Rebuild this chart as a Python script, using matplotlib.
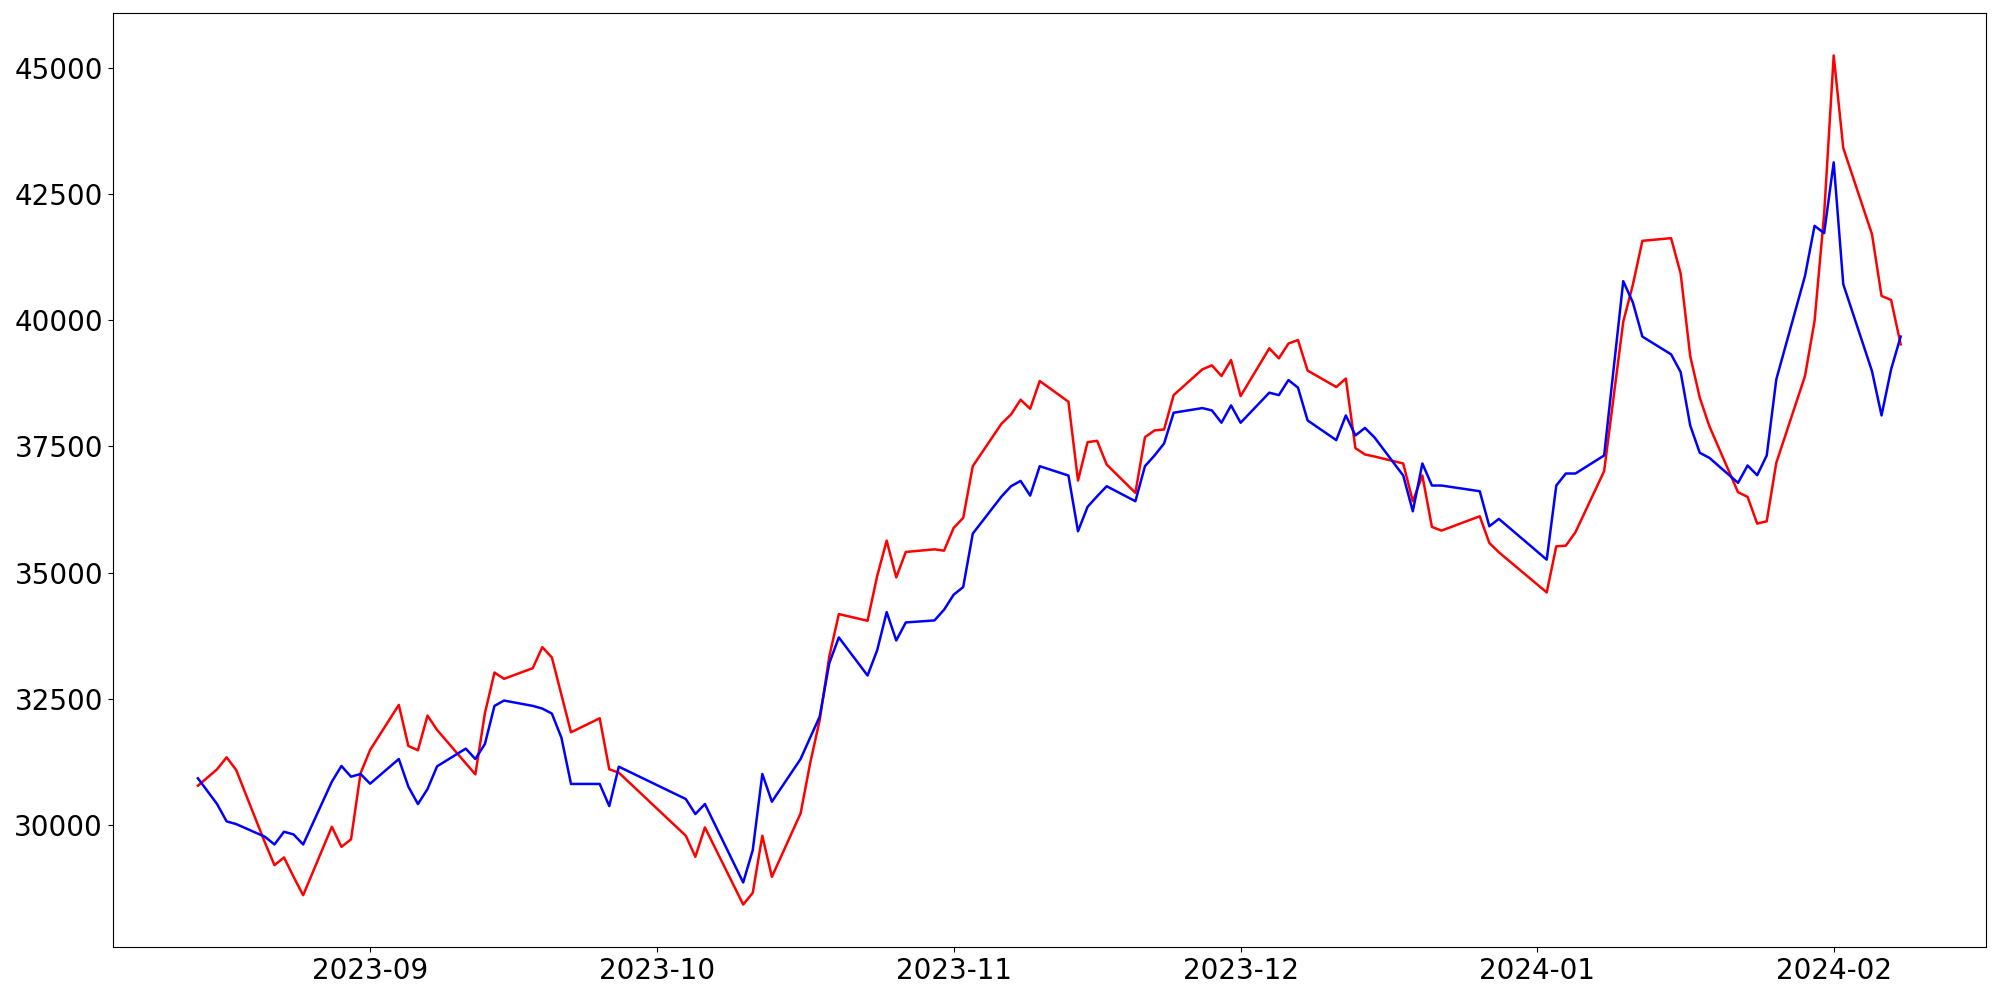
import matplotlib
matplotlib.use("Agg")
import matplotlib.pyplot as plt
import matplotlib.dates as mdates
from matplotlib.ticker import MultipleLocator
import pandas as pd

dates = [
    "2023-08-14", "2023-08-16", "2023-08-17", "2023-08-18",
    "2023-08-21", "2023-08-22", "2023-08-23", "2023-08-24", "2023-08-25",
    "2023-08-28", "2023-08-29", "2023-08-30", "2023-08-31", "2023-09-01",
    "2023-09-04", "2023-09-05", "2023-09-06", "2023-09-07", "2023-09-08",
    "2023-09-11", "2023-09-12", "2023-09-13", "2023-09-14", "2023-09-15",
    "2023-09-18", "2023-09-19", "2023-09-20", "2023-09-21", "2023-09-22",
    "2023-09-25", "2023-09-26", "2023-09-27",
    "2023-10-04", "2023-10-05", "2023-10-06",
    "2023-10-10", "2023-10-11", "2023-10-12", "2023-10-13",
    "2023-10-16", "2023-10-17", "2023-10-18", "2023-10-19", "2023-10-20",
    "2023-10-23", "2023-10-24", "2023-10-25", "2023-10-26", "2023-10-27",
    "2023-10-30", "2023-10-31", "2023-11-01", "2023-11-02", "2023-11-03",
    "2023-11-06", "2023-11-07", "2023-11-08", "2023-11-09", "2023-11-10",
    "2023-11-13", "2023-11-14", "2023-11-15", "2023-11-16", "2023-11-17",
    "2023-11-20", "2023-11-21", "2023-11-22", "2023-11-23", "2023-11-24",
    "2023-11-27", "2023-11-28", "2023-11-29", "2023-11-30", "2023-12-01",
    "2023-12-04", "2023-12-05", "2023-12-06", "2023-12-07", "2023-12-08",
    "2023-12-11", "2023-12-12", "2023-12-13", "2023-12-14", "2023-12-15",
    "2023-12-18", "2023-12-19", "2023-12-20", "2023-12-21", "2023-12-22",
    "2023-12-26", "2023-12-27", "2023-12-28",
    "2024-01-02", "2024-01-03", "2024-01-04", "2024-01-05",
    "2024-01-08", "2024-01-10", "2024-01-11", "2024-01-12",
    "2024-01-15", "2024-01-16", "2024-01-17", "2024-01-18", "2024-01-19",
    "2024-01-22", "2024-01-23", "2024-01-24", "2024-01-25", "2024-01-26",
    "2024-01-29", "2024-01-30", "2024-01-31", "2024-02-01", "2024-02-02",
    "2024-02-05", "2024-02-06", "2024-02-07", "2024-02-08",
]

red_values = [
    30780, 31105, 31343, 31091,
    29656, 29206, 29359, 28975, 28611,
    29967, 29570, 29716, 31025, 31488,
    32381, 31567, 31482, 32169, 31885,
    31224, 31005, 32215, 33022, 32897,
    33108, 33525, 33320, 32579, 31838,
    32116, 31105, 31038,
    29789, 29372, 29954,
    28426, 28658, 29789, 28975,
    30231, 31224, 32083, 33340, 34180,
    34047, 34927, 35635, 34907, 35410,
    35462, 35436, 35886, 36085, 37109,
    37950, 38134, 38425, 38247, 38796,
    38386, 36825, 37585, 37612, 37142,
    36581, 37684, 37817, 37837, 38517,
    39027, 39107, 38895, 39212, 38498,
    39444, 39245, 39537, 39609, 39004,
    38677, 38845, 37467, 37341, 37301,
    37162, 36415, 36924, 35906, 35833,
    36117, 35589, 35403,
    34609, 35522, 35535, 35800,
    37010, 39970, 40700, 41573,
    41626, 40926, 39291, 38466, 37903,
    36593, 36501, 35972, 36018, 37176,
    38895, 39986, 42100, 45245, 43412,
    41706, 40482, 40402, 39523,
]

blue_values = [
    30926, 30417, 30073, 30020,
    29769, 29616, 29868, 29815, 29616,
    30860, 31171, 30959, 31012, 30820,
    31309, 30761, 30417, 30714, 31164,
    31515, 31309, 31607, 32361, 32467,
    32361, 32308, 32209, 31730, 30815,
    30815, 30377, 31157,
    30516, 30218, 30417,
    28863, 29504, 31012, 30463,
    31309, 31732, 32149, 33208, 33717,
    32963, 33459, 34219, 33657, 34014,
    34054, 34266, 34563, 34715, 35773,
    36508, 36712, 36818, 36527, 37109,
    36924, 35820, 36303, 36514, 36712,
    36415, 37109, 37321, 37559, 38168,
    38260, 38214, 37970, 38313, 37970,
    38565, 38517, 38815, 38664, 38016,
    37625, 38115, 37718, 37867, 37678,
    36924, 36216, 37162, 36726, 36726,
    36613, 35919, 36065,
    35258, 36726, 36964, 36964,
    37321, 40773, 40355, 39676,
    39325, 38974, 37916, 37374, 37275,
    36779, 37123, 36930, 37321, 38829,
    40878, 41870, 41725, 43128, 40714,
    38994, 38115, 39027, 39676,
]

x = pd.to_datetime(dates)

fig, ax = plt.subplots(figsize=(20, 10), dpi=100)
fig.subplots_adjust(left=0.0564, right=0.9929, top=0.987, bottom=0.053)

ax.plot(x, red_values, color="red", linewidth=1.8)
ax.plot(x, blue_values, color="blue", linewidth=1.8)

ax.xaxis.set_major_locator(mdates.MonthLocator())
ax.xaxis.set_major_formatter(mdates.DateFormatter("%Y-%m"))
ax.yaxis.set_major_locator(MultipleLocator(2500))
ax.tick_params(axis="both", labelsize=20)

fig.savefig("out.png", dpi=100)
